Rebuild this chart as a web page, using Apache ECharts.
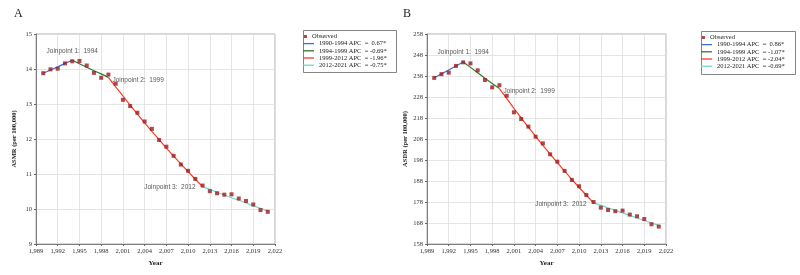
<!DOCTYPE html>
<html>
<head>
<meta charset="utf-8">
<script src="https://cdn.jsdelivr.net/npm/echarts@6/dist/echarts.min.js"></script>
<style>
html,body{margin:0;padding:0;background:#fff;}
#main{width:800px;height:275px;}
</style>
</head>
<body>
<div id="main"></div>
<script>
// years observed
const years = [1990,1991,1992,1993,1994,1995,1996,1997,1998,1999,2000,2001,2002,2003,2004,2005,
  2006,2007,2008,2009,2010,2011,2012,2013,2014,2015,2016,2017,2018,2019,2020,2021];
const joinpoints = [1994, 1999, 2012];
const segments = [[1990,1994],[1994,1999],[1999,2012],[2012,2021]];

// panel A - ASMR
const obsA = [13.88,13.99,14.01,14.16,14.22,14.23,14.10,13.89,13.75,13.84,13.58,13.12,12.94,12.75,12.50,12.29,
  11.97,11.78,11.52,11.27,11.09,10.86,10.67,10.51,10.45,10.41,10.42,10.30,10.23,10.13,9.97,9.92];
const fitA = [13.88,13.97,14.06,14.16,14.25,14.15,14.05,13.95,13.86,13.76,13.49,13.23,12.97,12.71,12.46,12.22,
  11.98,11.74,11.51,11.29,11.07,10.85,10.64,10.56,10.48,10.40,10.32,10.25,10.17,10.09,10.02,9.94];
const apcA = ['1990-1994 APC  =  0.67*','1994-1999 APC  = -0.69*','1999-2012 APC  = -1.96*','2012-2021 APC  = -0.75*'];

// panel B - ASDR
const obsB = [237.1,238.9,239.6,242.8,244.5,244.0,240.7,236.1,232.6,233.6,228.6,220.7,217.5,213.9,209.1,205.9,
  200.7,197.2,192.8,188.5,185.5,181.3,178.0,175.3,174.2,173.6,173.9,172.0,171.2,169.9,167.4,166.3];
const fitB = [237.2,239.0,240.9,242.8,244.7,242.1,239.5,236.9,234.4,232.0,227.3,222.6,218.1,213.6,209.3,205.0,
  200.8,196.7,192.7,188.8,184.9,181.2,177.6,176.4,175.2,174.0,172.8,171.6,170.4,169.2,168.0,166.9];
const apcB = ['1990-1994 APC  =  0.86*','1994-1999 APC  = -1.07*','1999-2012 APC  = -2.04*','2012-2021 APC  = -0.69*'];

const segColors = ['#3d6fd0','#2f7a2f','#ff3a26','#6fd8cc'];
const labelPos = [['top',[0,-1]],['right',[-1,3]],['left',[-2,1]]];

const serif = 'Liberation Serif';
const sans = 'Liberation Sans';

function makeSeries(idx, obs, fit, apc) {
  const out = [];
  out.push({
    name: 'Observed', type: 'scatter', xAxisIndex: idx, yAxisIndex: idx,
    symbol: 'rect', symbolSize: 4, z: 5,
    itemStyle: {color: '#9a1c1c'},
    data: years.map((y, i) => [y, obs[i]])
  });
  segments.forEach((s, k) => {
    const d = [];
    years.forEach((y, i) => { if (y >= s[0] && y <= s[1]) d.push([y, fit[i]]); });
    out.push({
      name: apc[k], type: 'line', xAxisIndex: idx, yAxisIndex: idx,
      showSymbol: false, symbol: 'none', z: 3,
      lineStyle: {color: segColors[k], width: 1.2},
      itemStyle: {color: segColors[k]},
      data: d
    });
  });
  out.push({
    type: 'scatter', xAxisIndex: idx, yAxisIndex: idx, symbolSize: 0, silent: true,
    data: joinpoints.map((j, k) => ({
      value: [j, fit[years.indexOf(j)]],
      label: {
        show: true, position: labelPos[k][0], offset: labelPos[k][1],
        formatter: 'Joinpoint ' + (k + 1) + ':  ' + j,
        fontFamily: sans, fontSize: 6.5, color: '#2a2a2a'
      }
    }))
  });
  return out;
}

function xAx(idx) {
  return {
    type: 'value', gridIndex: idx, min: 1989, max: 2022, interval: 3,
    name: 'Year', nameLocation: 'middle', nameGap: 16,
    nameTextStyle: {fontFamily: serif, fontWeight: 'bold', fontSize: 7, color: '#222'},
    axisLine: {lineStyle: {color: '#666', width: 0.8}},
    axisTick: {show: true, length: 2, lineStyle: {color: '#666'}},
    axisLabel: {fontFamily: serif, fontSize: 6.5, color: '#333', margin: 4},
    splitLine: {show: true, lineStyle: {color: '#dedede', width: 0.8}}
  };
}
function yAx(idx, min, max, step, name) {
  return {
    type: 'value', gridIndex: idx, min: min, max: max, interval: step,
    name: name, nameLocation: 'middle', nameGap: 18,
    nameTextStyle: {fontFamily: serif, fontWeight: 'bold', fontSize: 6.5, color: '#222'},
    axisLine: {show: true, lineStyle: {color: '#666', width: 0.8}},
    axisTick: {show: true, length: 2, lineStyle: {color: '#666'}},
    axisLabel: {fontFamily: serif, fontSize: 6.5, color: '#333', margin: 4},
    splitLine: {show: true, lineStyle: {color: '#dedede', width: 0.8}}
  };
}

function legends(left, top, apc) {
  return [
    {
      left: left + 3, top: top + 5, orient: 'vertical', data: [{name: 'Observed', icon: 'rect'}],
      itemWidth: 3, itemHeight: 3, selectedMode: false, padding: 0,
      textStyle: {fontFamily: serif, fontSize: 6.5, color: '#222', lineHeight: 7}
    },
    {
      left: left + 2, top: top + 12, orient: 'vertical',
      data: apc.map(n => ({name: n, icon: 'rect'})),
      itemWidth: 11, itemHeight: 1.3, itemGap: 0, selectedMode: false, padding: 0,
      textStyle: {fontFamily: serif, fontSize: 6.5, color: '#222', lineHeight: 7.2}
    }
  ];
}

const chart = echarts.init(document.getElementById('main'), null, {renderer: 'canvas'});
chart.setOption({
  animation: false,
  backgroundColor: '#fff',
  grid: [
    {left: 36, top: 34, width: 239, height: 210, show: true, borderColor: '#999', borderWidth: 0.8},
    {left: 427, top: 34, width: 239, height: 210, show: true, borderColor: '#999', borderWidth: 0.8}
  ],
  xAxis: [xAx(0), xAx(1)],
  yAxis: [yAx(0, 9, 15, 1, 'ASMR (per 100,000)'), yAx(1, 158, 258, 10, 'ASDR (per 100,000)')],
  legend: legends(301, 28, apcA).concat(legends(699, 29, apcB)),
  graphic: [
    {type: 'text', left: 14, top: 8, style: {text: 'A', font: '12px "Liberation Serif"', fill: '#222'}},
    {type: 'text', left: 403, top: 8, style: {text: 'B', font: '12px "Liberation Serif"', fill: '#222'}},
    {type: 'rect', left: 301, top: 28, shape: {width: 93, height: 42}, style: {fill: 'none', stroke: '#666', lineWidth: 0.8}},
    {type: 'rect', left: 699, top: 29, shape: {width: 94, height: 43}, style: {fill: 'none', stroke: '#666', lineWidth: 0.8}}
  ],
  series: makeSeries(0, obsA, fitA, apcA).concat(makeSeries(1, obsB, fitB, apcB))
});
</script>
</body>
</html>
